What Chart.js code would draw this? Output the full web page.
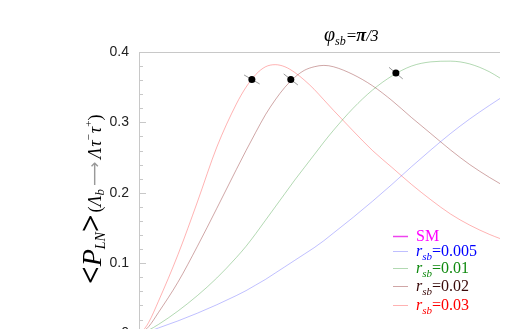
<!DOCTYPE html>
<html>
<head>
<meta charset="utf-8">
<script src="https://cdn.jsdelivr.net/npm/chart.js@4.4.1/dist/chart.umd.min.js"></script>
<style>
  html, body { margin: 0; padding: 0; background: #fff; overflow: hidden; }
  canvas { display: block; }
</style>
</head>
<body>
<canvas id="grafico" width="510" height="352"></canvas>
<script>
// Posiciones en x (unidades arbitrarias, el eje x queda fuera del recorte)
const xPos = [2, 10, 20, 40, 60, 80, 100, 110, 120, 130, 140, 150, 160, 170, 180, 190, 200, 220, 240, 260, 280, 300, 320, 340, 360, 371];

// Valores de <P_LN>
const valoresSM  = [0, 0, 0, 0, 0, 0, 0, 0, 0, 0, 0, 0, 0, 0, 0, 0, 0, 0, 0, 0, 0, 0, 0, 0, 0, 0];
const valores005 = [0.000, 0.003, 0.008, 0.018, 0.029, 0.041, 0.054, 0.061, 0.069, 0.077, 0.086, 0.095, 0.104, 0.113, 0.122, 0.132, 0.143, 0.165, 0.188, 0.212, 0.237, 0.261, 0.284, 0.305, 0.324, 0.334];
const valores01  = [0.000, 0.005, 0.013, 0.032, 0.054, 0.079, 0.108, 0.124, 0.142, 0.161, 0.180, 0.199, 0.218, 0.236, 0.254, 0.272, 0.289, 0.320, 0.346, 0.366, 0.380, 0.386, 0.387, 0.383, 0.372, 0.363];
const valores02  = [0.000, 0.010, 0.030, 0.073, 0.124, 0.178, 0.233, 0.260, 0.286, 0.311, 0.332, 0.350, 0.364, 0.374, 0.379, 0.381, 0.379, 0.368, 0.352, 0.331, 0.307, 0.284, 0.261, 0.240, 0.222, 0.213];
const valores03  = [0.000, 0.016, 0.046, 0.112, 0.187, 0.265, 0.326, 0.350, 0.368, 0.379, 0.382, 0.379, 0.371, 0.360, 0.347, 0.332, 0.317, 0.288, 0.260, 0.236, 0.212, 0.190, 0.170, 0.154, 0.141, 0.135];

// Puntos negros marcados sobre las curvas
const puntosX = [116, 156, 264];
const puntosY = [0.361, 0.361, 0.370];
const puntosGiro = [30, 38, 40];

// Marcas del eje y
const yTicks = [0, 0.02, 0.04, 0.06, 0.08, 0.1, 0.12, 0.14, 0.16, 0.18, 0.2, 0.22, 0.24, 0.26, 0.28, 0.3, 0.32, 0.34, 0.36, 0.38, 0.4];
const yEtiquetas = ['0', '', '', '', '', '0.1', '', '', '', '', '0.2', '', '', '', '', '0.3', '', '', '', '', '0.4'];

// Textos de la leyenda
const leyendaNombres = ['SM', '0.005', '0.01', '0.02', '0.03'];

// Colores
const colorLinea = ['#ff00ff', 'rgba(0,0,255,0.25)', 'rgba(0,128,0,0.3)', 'rgba(120,0,0,0.35)', 'rgba(255,0,0,0.3)'];
const colorTexto = ['#ff00ff', '#0000ff', '#108a10', '#3a0a0a', '#ff0000'];
const colorMuestra = ['#ee44ee', 'rgba(0,0,255,0.25)', 'rgba(0,128,0,0.3)', 'rgba(120,0,0,0.35)', 'rgba(255,0,0,0.3)'];
const GRIS = '#c8c8c8';
const SERIF = '"Liberation Serif", "DejaVu Serif", serif';

function puntos(valores) {
    return xPos.map((x, i) => ({ x: x, y: valores[i] }));
}

// Dibuja trozos de texto uno detrás de otro (para subíndices y superíndices)
function trozos(ctx, lista, x, y) {
    lista.forEach(t => {
        ctx.font = t.f;
        ctx.fillStyle = t.c || '#000';
        ctx.fillText(t.t, x, y + (t.dy || 0));
        x += ctx.measureText(t.t).width + (t.sp || 0);
    });
    return x;
}

const decoracion = {
    id: 'decoracion',
    afterDraw(chart) {
        const ctx = chart.ctx;
        const area = chart.chartArea;
        const ey = chart.scales.y;
        ctx.save();

        // Línea superior del marco
        ctx.strokeStyle = GRIS;
        ctx.lineWidth = 1;
        ctx.beginPath();
        ctx.moveTo(area.left, Math.round(area.top) + 0.5);
        ctx.lineTo(area.right, Math.round(area.top) + 0.5);
        ctx.stroke();

        // Marcas hacia dentro del eje y
        yTicks.forEach((v, i) => {
            const py = Math.round(ey.getPixelForValue(v)) + 0.5;
            const largo = yEtiquetas[i] ? 7 : 4;
            ctx.beginPath();
            ctx.moveTo(area.left, py);
            ctx.lineTo(area.left + largo, py);
            ctx.stroke();
        });

        // Título phi_sb = pi/3
        ctx.textBaseline = 'alphabetic';
        trozos(ctx, [
            { t: 'φ', f: 'italic 20px ' + SERIF },
            { t: 'sb', f: 'italic 12px ' + SERIF, dy: 4, sp: 1 },
            { t: '=', f: '17px ' + SERIF },
            { t: 'π', f: 'italic bold 18px ' + SERIF },
            { t: '/3', f: 'italic 16px ' + SERIF }
        ], 324, 41);

        // Título del eje y (girado)
        ctx.save();
        ctx.translate(101, 284);
        ctx.rotate(-Math.PI / 2);
        trozos(ctx, [
            { t: '<', f: 'bold 31px ' + SERIF },
            { t: 'P', f: 'italic 28px ' + SERIF },
            { t: 'LN', f: 'italic 14px ' + SERIF, dy: 4 },
            { t: '>', f: 'bold 31px ' + SERIF, sp: 2 },
            { t: '(', f: '18px ' + SERIF },
            { t: 'Λ', f: 'italic 18px ' + SERIF },
            { t: 'b', f: 'italic 13px ' + SERIF, dy: 3, sp: 3 },
            { t: '⟶', f: '17px "DejaVu Sans"', c: '#999', dy: -1, sp: 3 },
            { t: 'Λ', f: 'italic 18px ' + SERIF, sp: 1 },
            { t: 'τ', f: 'italic 18px ' + SERIF },
            { t: '−', f: '11px ' + SERIF, dy: -9, sp: 1 },
            { t: 'τ', f: 'italic 18px ' + SERIF },
            { t: '+', f: '11px ' + SERIF, dy: -9 },
            { t: ')', f: '18px ' + SERIF }
        ], 0, 0);
        ctx.restore();

        // Leyenda
        const filas = [236, 251, 268, 286, 305];
        leyendaNombres.forEach((nombre, i) => {
            const fy = filas[i];
            ctx.strokeStyle = colorMuestra[i];
            ctx.lineWidth = i === 0 ? 1.5 : 1;
            ctx.beginPath();
            ctx.moveTo(393, fy + 0.5);
            ctx.lineTo(408, fy + 0.5);
            ctx.stroke();
            if (i === 0) {
                trozos(ctx, [{ t: nombre, f: '16px ' + SERIF, c: colorTexto[i] }], 416, fy + 5);
            } else {
                trozos(ctx, [
                    { t: 'r', f: 'italic 16px ' + SERIF, c: colorTexto[i] },
                    { t: 'sb', f: 'italic 11px ' + SERIF, c: colorTexto[i], dy: 4 },
                    { t: '=' + nombre, f: '16px ' + SERIF, c: colorTexto[i] }
                ], 416, fy + 5);
            }
        });
        ctx.restore();
    }
};

const ctx = document.getElementById('grafico').getContext('2d');
const curvas = [valoresSM, valores005, valores01, valores02, valores03];

new Chart(ctx, {
    type: 'line',
    data: {
        datasets: [
            {
                type: 'scatter',
                data: puntosX.map((x, i) => ({ x: x, y: puntosY[i] })),
                pointStyle: 'circle',
                pointRadius: 3.5,
                pointBackgroundColor: '#000',
                pointBorderWidth: 0,
                order: 0
            },
            {
                type: 'scatter',
                data: puntosX.map((x, i) => ({ x: x, y: puntosY[i] })),
                pointStyle: 'line',
                pointRadius: 9,
                pointRotation: puntosGiro,
                pointBorderColor: '#999',
                pointBorderWidth: 1,
                order: 1
            }
        ].concat(curvas.map((valores, i) => ({
            data: puntos(valores),
            borderColor: colorLinea[i],
            borderWidth: 1,
            pointRadius: 0,
            cubicInterpolationMode: 'monotone',
            fill: false,
            order: 2
        })))
    },
    options: {
        responsive: false,
        animation: false,
        layout: { padding: { top: 52, right: 0, bottom: 0, left: 0 } },
        plugins: {
            legend: { display: false },
            title: { display: false },
            tooltip: { enabled: false }
        },
        scales: {
            x: { type: 'linear', min: 0, max: 371, display: false },
            y: {
                min: 0,
                max: 0.4,
                afterFit: s => { s.width = 139; },
                afterBuildTicks: s => { s.ticks = yTicks.map(v => ({ value: v })); },
                ticks: {
                    autoSkip: false,
                    padding: 10,
                    color: '#222',
                    font: { family: '"Liberation Sans", Arial, sans-serif', size: 14 },
                    callback: (v, i) => yEtiquetas[i]
                },
                grid: { drawOnChartArea: false, drawTicks: false },
                border: { color: GRIS, width: 1 }
            }
        }
    },
    plugins: [decoracion]
});
</script>
</body>
</html>
